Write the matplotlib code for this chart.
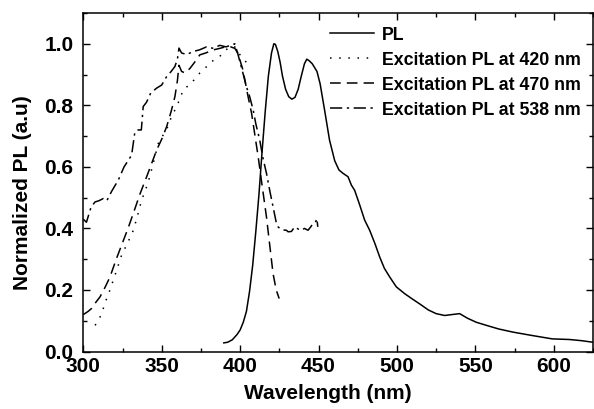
import matplotlib
matplotlib.use("Agg")
import matplotlib.pyplot as plt
from matplotlib.ticker import MultipleLocator

plt.rcParams['font.family'] = ['Liberation Sans', 'DejaVu Sans']
plt.rcParams['font.weight'] = 'bold'

# PL emission spectrum
pl_wl = [389.6, 392, 395, 398, 400, 402, 404, 406, 408, 410, 412, 414, 416, 418,
         420, 421.5, 422.5, 424, 425.5, 427, 429, 431, 433, 435, 437, 439, 441, 442.5, 444, 446,
         449, 451, 454, 457, 460.3, 463, 465.6, 468.8, 471, 473, 476, 479.4, 482.6,
         486, 489, 492, 495.4, 499.6, 504.9, 510, 514.4, 520, 525, 530.4, 535, 540,
         545, 550.6, 557, 565, 574, 585, 599, 610, 618, 625]
pl_val = [0.028, 0.03, 0.038, 0.055, 0.07, 0.095, 0.13, 0.195, 0.28, 0.39, 0.51, 0.65, 0.78, 0.895,
          0.97, 1.0, 0.998, 0.975, 0.94, 0.895, 0.852, 0.828, 0.82, 0.826, 0.852, 0.895, 0.935, 0.95, 0.945, 0.935,
          0.91, 0.87, 0.78, 0.687, 0.62, 0.59, 0.579, 0.568, 0.54, 0.524, 0.48, 0.427, 0.394,
          0.35, 0.307, 0.27, 0.242, 0.21, 0.188, 0.17, 0.155, 0.135, 0.123, 0.117, 0.12, 0.123,
          0.108, 0.095, 0.085, 0.073, 0.063, 0.053, 0.041, 0.039, 0.035, 0.03]

# Excitation PL at 420 nm (dotted)
ex420_wl = [307.5, 309.5, 311.7, 314, 317, 321, 324.4, 328, 331.9, 334.5, 337.2, 340,
            342.5, 345, 347.8, 350.5, 353, 356, 359.5, 361.5, 363.7, 366, 368, 371, 374.3,
            377.5, 380.7, 384, 387, 390, 393.4, 396.6, 399.8, 402, 404, 405.7]
ex420_val = [0.085, 0.1, 0.123, 0.16, 0.2, 0.26, 0.313, 0.35, 0.394, 0.44, 0.492, 0.53,
             0.57, 0.62, 0.676, 0.7, 0.72, 0.76, 0.796, 0.82, 0.85, 0.86, 0.866, 0.885, 0.905,
             0.92, 0.937, 0.95, 0.959, 0.975, 0.991, 0.99, 0.965, 0.95, 0.94, 0.937]

# Excitation PL at 470 nm (dashed)
ex470_wl = [300, 303, 305.3, 308, 310.6, 314, 317, 321, 325.5, 328.5, 331.9, 336, 340.4,
            343.5, 346.8, 350, 353.1, 356, 358.4, 360, 361, 362.7, 365, 368, 371, 374.3,
            378, 382.8, 387, 391.3, 394, 396.6, 398.5, 399.8, 401.5, 403, 405, 407.3,
            409.5, 411.5, 414, 416.8, 419, 421, 423, 424.9]
ex470_val = [0.12, 0.13, 0.14, 0.16, 0.177, 0.21, 0.242, 0.3, 0.36, 0.4, 0.449, 0.51, 0.568,
             0.61, 0.655, 0.69, 0.73, 0.78, 0.828, 0.88, 0.93, 0.91, 0.905, 0.92, 0.94, 0.964,
             0.97, 0.98, 0.985, 0.991, 0.99, 0.985, 0.97, 0.948, 0.92, 0.883, 0.83, 0.774,
             0.7, 0.633, 0.54, 0.437, 0.34, 0.253, 0.2, 0.172]

# Excitation PL at 538 nm (dash-dot)
ex538_wl = [300, 302, 305, 307.5, 310, 312.7, 315, 318, 322.3, 326, 330.8, 332.9, 335, 337,
            338.2, 340.3, 343, 346.8, 350, 353.1, 356, 358.4, 360, 361, 362.7, 366, 370,
            374, 378.6, 383, 387, 391, 394, 396.6, 398.7, 401, 404, 406, 408.3, 410, 412.5,
            414.5, 416.8, 419, 421, 423, 424.2, 425.3, 427, 429.5, 430.6, 432.7, 434.8, 437,
            439.1, 441, 443.3, 445, 446.5, 448, 449, 449.5]
ex538_val = [0.43, 0.42, 0.47, 0.486, 0.49, 0.497, 0.49, 0.52, 0.557, 0.6, 0.638, 0.714, 0.72,
             0.72, 0.796, 0.81, 0.84, 0.856, 0.866, 0.893, 0.91, 0.926, 0.95, 0.986, 0.97, 0.965,
             0.975, 0.98, 0.99, 0.985, 0.995, 0.99, 0.995, 1.0, 0.964, 0.92, 0.861, 0.83, 0.785,
             0.74, 0.687, 0.63, 0.579, 0.52, 0.47, 0.42, 0.405, 0.40, 0.395, 0.394, 0.389, 0.39,
             0.405, 0.398, 0.394, 0.4, 0.394, 0.405, 0.416, 0.42, 0.432, 0.405]

labels = ["PL", "Excitation PL at 420 nm", "Excitation PL at 470 nm", "Excitation PL at 538 nm"]

fig = plt.figure(figsize=(5.94, 4.09), dpi=100)
ax = fig.add_axes([83.3 / 594, 1 - 351.5 / 409, (593 - 83.3) / 594, (351.5 - 13) / 409])

lw = 1.1
ax.plot(pl_wl, pl_val, color='black', lw=lw, ls='-', label=labels[0])
ax.plot(ex420_wl, ex420_val, color='black', lw=lw, ls=(0, (1, 5)), label=labels[1])
ax.plot(ex470_wl, ex470_val, color='black', lw=lw, ls=(0, (7, 4)), label=labels[2])
ax.plot(ex538_wl, ex538_val, color='black', lw=lw, ls=(0, (8, 3, 1.5, 3)), label=labels[3])

ax.set_xlim(300, 625)
ax.set_ylim(0, 1.1)
ax.xaxis.set_major_locator(MultipleLocator(50))
ax.xaxis.set_minor_locator(MultipleLocator(25))
ax.yaxis.set_major_locator(MultipleLocator(0.2))
ax.yaxis.set_minor_locator(MultipleLocator(0.1))
ax.yaxis.set_major_formatter(plt.FormatStrFormatter('%.1f'))

ax.tick_params(which='both', direction='in', top=True, right=True, width=1.0)
ax.tick_params(which='major', length=5, labelsize=15, pad=4)
ax.tick_params(axis='y', which='major', pad=7)
ax.tick_params(which='minor', length=3)
for lab in ax.get_xticklabels() + ax.get_yticklabels():
    lab.set_fontweight('bold')
for s in ax.spines.values():
    s.set_linewidth(1.1)

ax.set_xlabel("Wavelength (nm)", fontsize=15, fontweight='bold')
ax.set_ylabel("Normalized PL (a.u)", fontsize=15, fontweight='bold')
ax.xaxis.set_label_coords(0.48, -0.095)
ax.yaxis.set_label_coords(-0.10, 0.47)

leg = ax.legend(loc='upper left', bbox_to_anchor=(0.484, 0.96), frameon=False,
                borderpad=0, borderaxespad=0, handlelength=2.5, handletextpad=0.4,
                labelspacing=0.45, prop={'size': 12.8, 'weight': 'bold'})

fig.savefig("out.png", dpi=100)
